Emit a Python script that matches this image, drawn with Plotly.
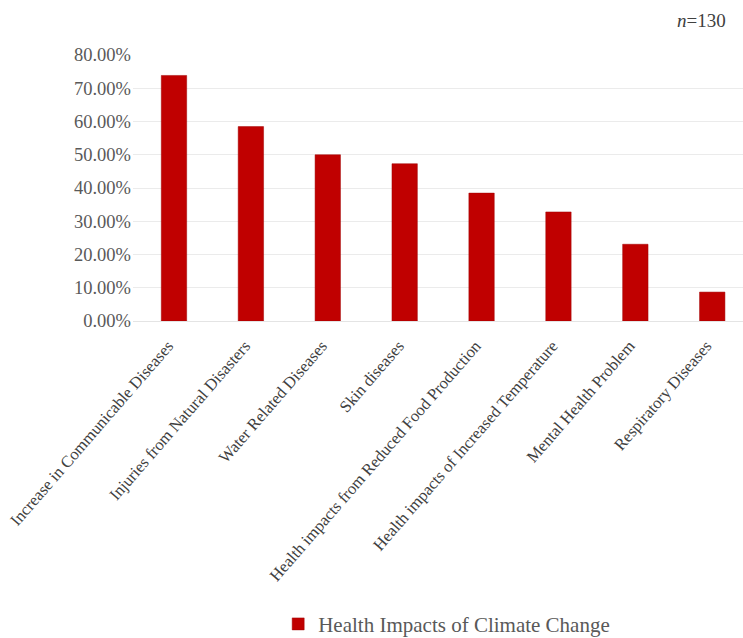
import plotly.graph_objects as go

categories = [
    "Increase in Communicable Diseases",
    "Injuries from Natural Disasters",
    "Water Related Diseases",
    "Skin diseases",
    "Health impacts from Reduced Food Production",
    "Health impacts of Increased Temperature",
    "Mental Health Problem",
    "Respiratory Diseases",
]
values = [73.85, 58.46, 50.00, 47.30, 38.46, 32.80, 23.08, 8.70]
series_name = "Health Impacts of Climate Change"
y_ticks = [0, 10, 20, 30, 40, 50, 60, 70, 80]
y_tick_labels = ["%.2f%%" % v for v in y_ticks]

FONT = "Liberation Serif"

fig = go.Figure()
fig.add_trace(go.Bar(
    x=categories,
    y=values,
    name=series_name,
    marker=dict(color="#C00000", line=dict(color="#A00000", width=0.5)),
    showlegend=True,
))

fig.update_layout(
    width=743,
    height=638,
    margin=dict(l=133, r=0, t=55, b=317, autoexpand=False),
    paper_bgcolor="white",
    plot_bgcolor="white",
    bargap=0.67,
    font=dict(family=FONT, size=18, color="#595959"),
    showlegend=True,
    legend=dict(
        orientation="h",
        x=0.238, xanchor="left",
        y=-1.14, yanchor="middle",
        font=dict(family=FONT, size=21, color="#595959"),
        bgcolor="rgba(0,0,0,0)",
        itemwidth=30,
    ),
    xaxis=dict(
        type="category",
        range=[-0.533, 7.40],
        tickangle=-49,
        tickfont=dict(family=FONT, size=16.5, color="#404040"),
        showgrid=False,
        showline=False,
        ticks="",
        automargin=False,
        ticklabelstandoff=11,
        ticklabelshift=-6,
    ),
    yaxis=dict(
        range=[0, 80],
        tickvals=y_ticks,
        ticktext=y_tick_labels,
        tickfont=dict(family=FONT, size=18.5, color="#595959"),
        showgrid=True,
        gridcolor="#EBEBEB",
        gridwidth=1,
        zeroline=True,
        zerolinecolor="#E4E4E4",
        zerolinewidth=1,
        showline=False,
        ticks="",
        ticklabelstandoff=1,
        automargin=False,
    ),
    annotations=[
        dict(
            text="<i>n</i>=130",
            xref="paper", yref="paper",
            x=(728 - 133) / 610, y=1 + (55 - 20) / 266,
            xanchor="right", yanchor="middle",
            showarrow=False,
            font=dict(family=FONT, size=19, color="#404040"),
        )
    ],
)

fig.write_html("out.html")
